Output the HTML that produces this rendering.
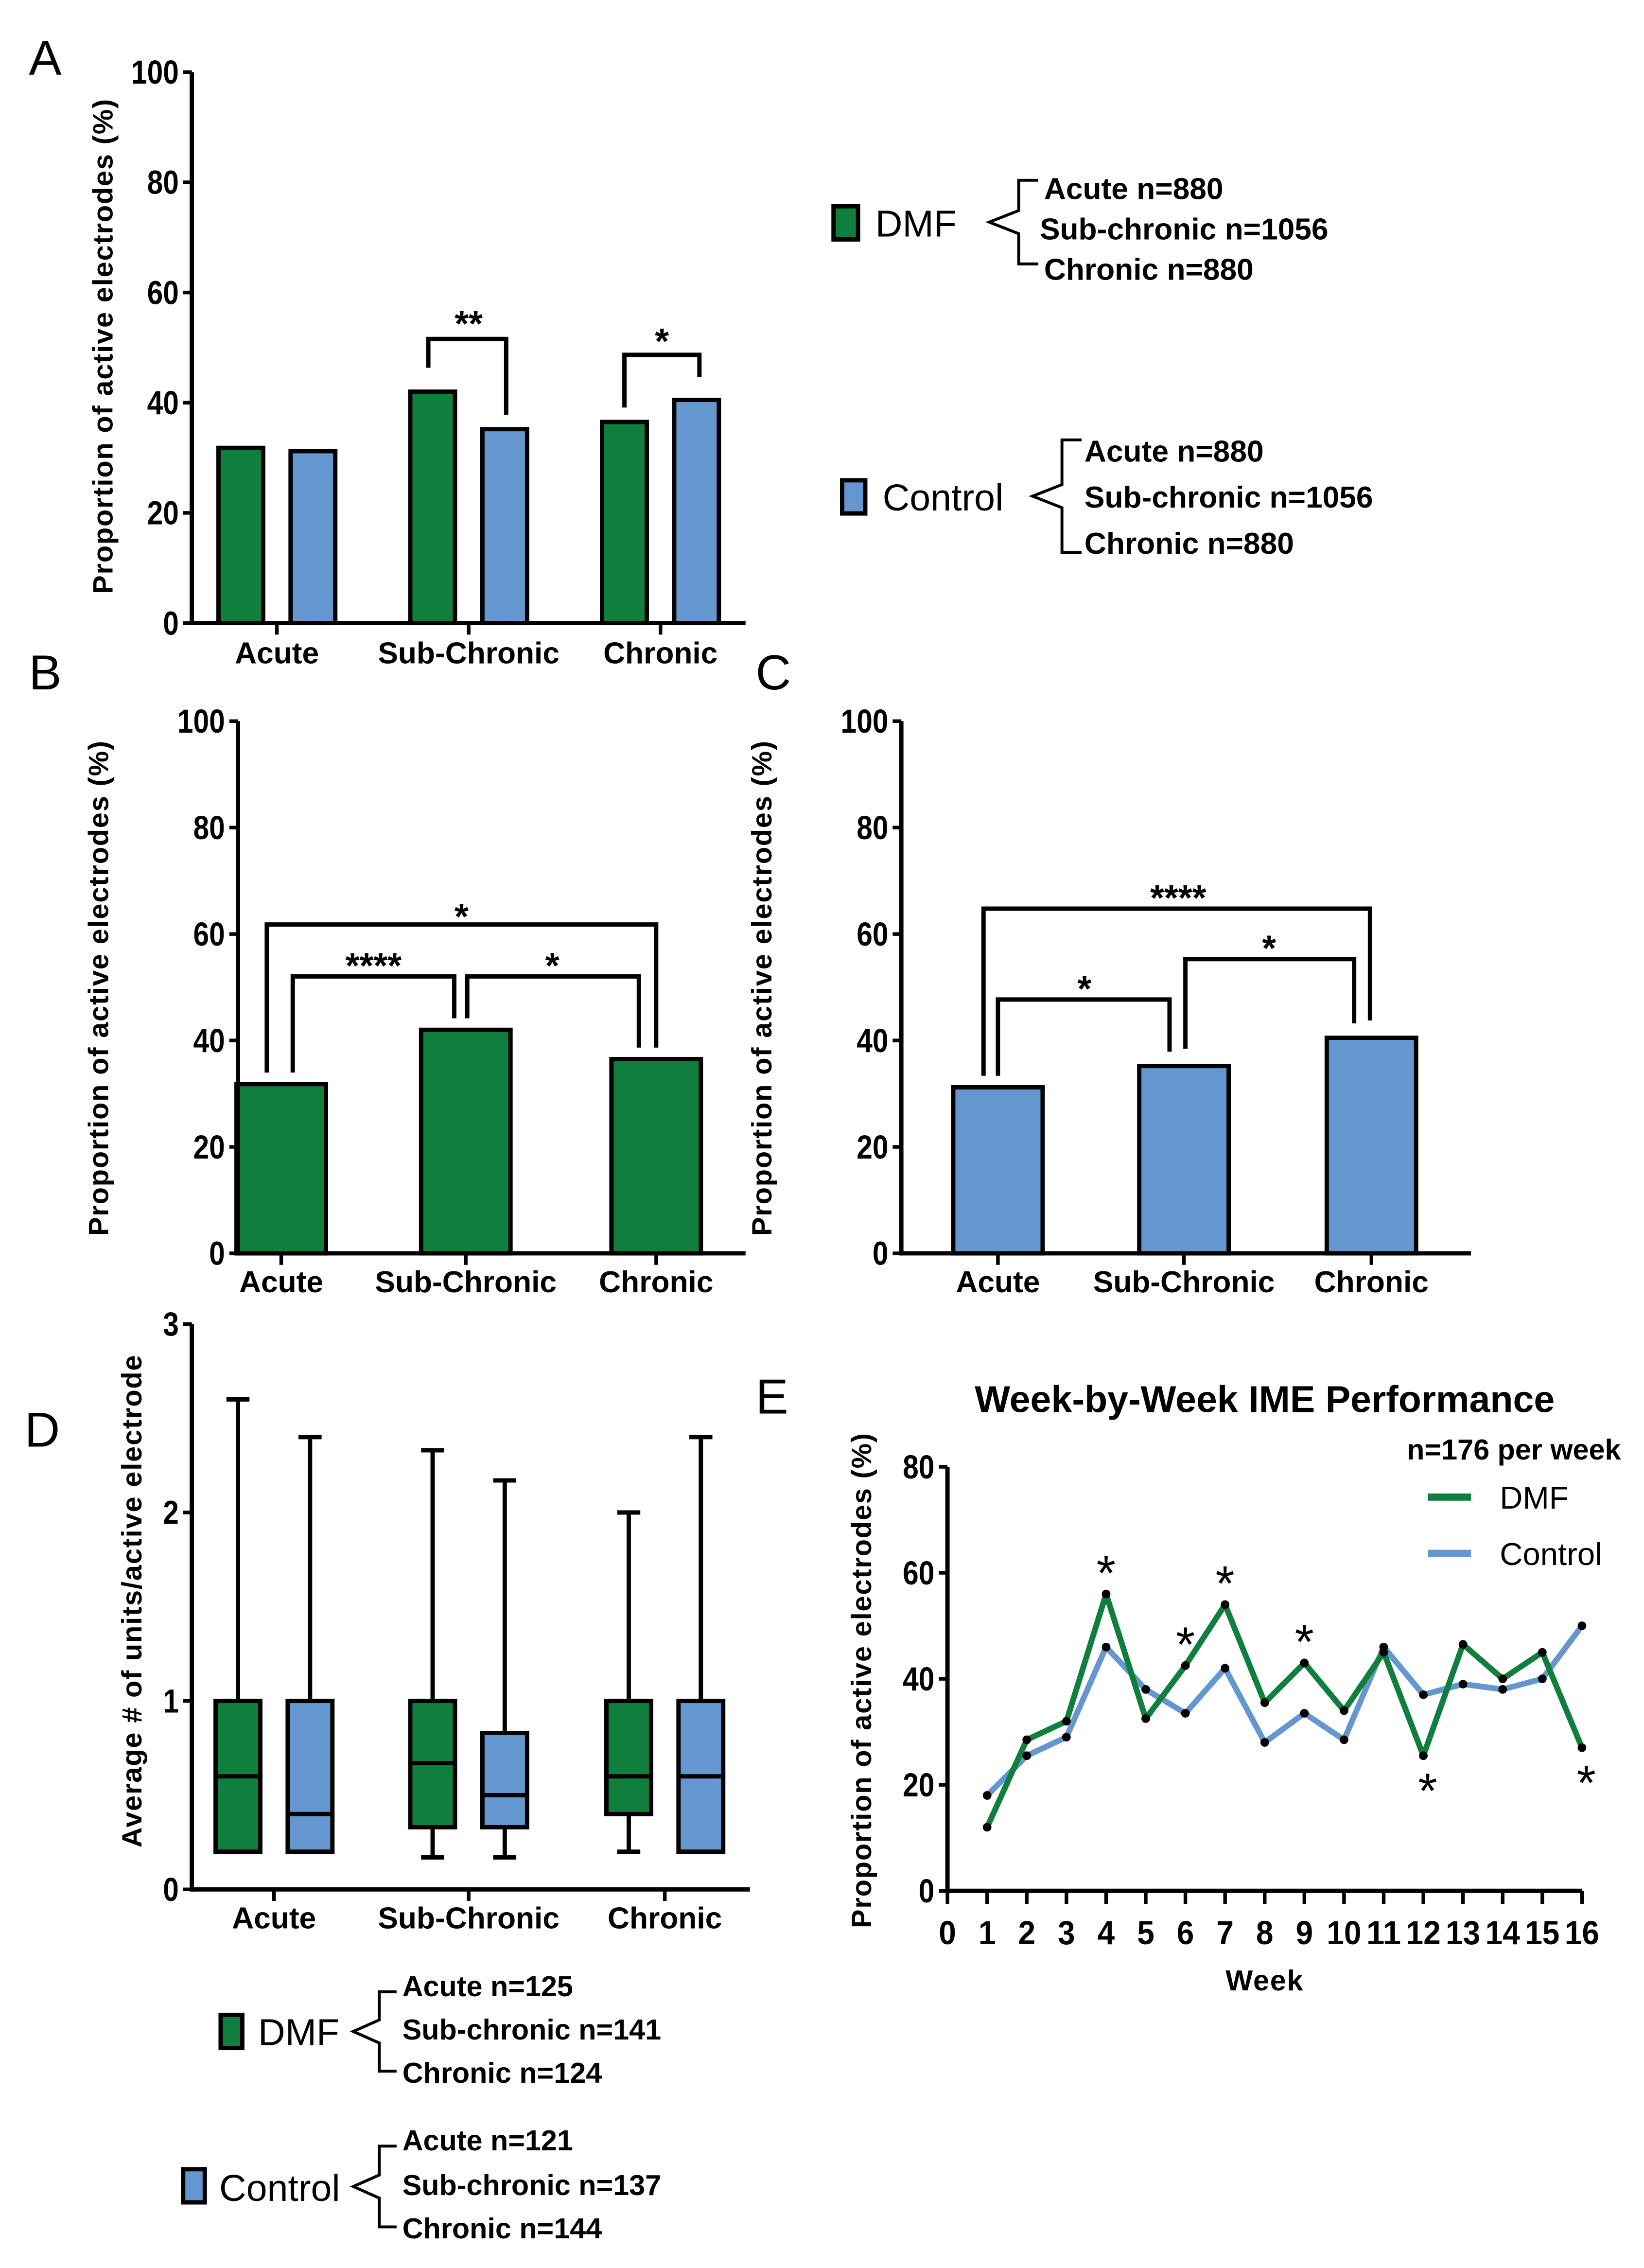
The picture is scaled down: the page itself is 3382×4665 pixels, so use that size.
<!DOCTYPE html>
<html><head><meta charset="utf-8">
<style>
html,body{margin:0;padding:0;background:#fff;}
svg{display:block;}
text{font-family:"Liberation Sans",sans-serif;}
</style></head>
<body>
<svg id="fig" width="3382" height="4665" viewBox="0 0 1140 1572.5" xmlns="http://www.w3.org/2000/svg"></svg>
<script>
// ---- data ----
const groups = ["Acute","Sub-Chronic","Chronic"];
const dmfPct = [31.8, 42, 36.5];
const ctrlPct = [31.2, 35.2, 40.5];
const yTicksPct = [0,20,40,60,80,100];
const boxDmfMax = [2.6, 2.33, 2.0];
const boxDmfQ3 = [1.0, 1.0, 1.0];
const boxDmfMed = [0.6, 0.67, 0.6];
const boxDmfQ1 = [0.2, 0.33, 0.4];
const boxDmfMin = [0.2, 0.17, 0.2];
const boxCtrlMax = [2.4, 2.17, 2.4];
const boxCtrlQ3 = [1.0, 0.83, 1.0];
const boxCtrlMed = [0.4, 0.5, 0.6];
const boxCtrlQ1 = [0.2, 0.33, 0.2];
const boxCtrlMin = [0.2, 0.17, 0.2];
const yTicksD = [0,1,2,3];
const weeks = [1,2,3,4,5,6,7,8,9,10,11,12,13,14,15,16];
const weekDmf = [12, 28.5, 32, 56, 32.5, 42.5, 54, 35.5, 43, 34, 45, 25.5, 46.5, 40, 45, 27];
const weekCtrl = [18, 25.5, 29, 46, 38, 33.5, 42, 28, 33.5, 28.5, 46, 37, 39, 38, 40, 50];
const starsAbove = [4,6,7,9];
const starsBelow = [12,16];
const xTicksE = [0,1,2,3,4,5,6,7,8,9,10,11,12,13,14,15,16];
const yTicksE = [0,20,40,60,80];

const G = "#107f3e", B = "#6497d0";
const svg = document.getElementById('fig');
const NS = "http://www.w3.org/2000/svg";
function el(tag, attrs, parent, txt){
  const e = document.createElementNS(NS, tag);
  for (const k in attrs) e.setAttribute(k, attrs[k]);
  if (txt !== undefined) e.textContent = txt;
  (parent || svg).appendChild(e);
  return e;
}
function grp(name){
  const g = el('g', {});
  
  
  return g;
}
function line(p, x1,y1,x2,y2,w){ return el('line',{x1,y1,x2,y2,stroke:'#000','stroke-width':w||3},p); }
function txt(p, x,y,s,size,anchor,bold,extra){
  const a = Object.assign({x,y,'font-size':size,'text-anchor':anchor||'middle',fill:'#000'}, extra||{});
  if (bold) a['font-weight']='bold';
  return el('text',a,p,s);
}
function yAxis(p, x, y0, y1, ticks, scale){
  line(p, x, y0+1.5, x, y1, 3);
  ticks.forEach(t=>{
    const y = scale(t);
    line(p, x-6, y, x, y, 2.5);
    const s = String(t);
    txt(p, x-9, y+8, s, 23, 'end', true, {textLength: s.length*11, lengthAdjust:'spacingAndGlyphs'});
  });
}
function panelLetter(s, x, y){
  const g = grp('panel-label-'+s.toLowerCase());
  txt(g, x, y, s, 34, 'start', false);
}
function bracket(p, xa, ya, xb, yb, ytop, label, lx, ly){
  el('polyline',{points:`${xa},${ya} ${xa},${ytop} ${xb},${ytop} ${xb},${yb}`,fill:'none',stroke:'#000','stroke-width':3},p);
  txt(p, lx, ly+3, label, 25, 'middle', true);
}
function brace(p, x, yTop, yBot, w){
  const ym = (yTop+yBot)/2;
  el('path',{d:`M${x+w},${yTop} L${x+w*0.6},${yTop} L${x+w*0.6},${ym-8} L${x},${ym} L${x+w*0.6},${ym+8} L${x+w*0.6},${yBot} L${x+w},${yBot}`,fill:'none',stroke:'#000','stroke-width':2},p);
}
const YT = {'letter-spacing':'0.6'};

// ---------- Panel A ----------
panelLetter('A', 20, 52);
{
  const g = grp('panel-a-chart');
  const y0 = 432, y100 = 50;
  const ys = v => y0 - (v/100)*(y0-y100);
  const centers = [192, 325, 458];
  const off = 25, bw = 31;
  groups.forEach((c,i)=>{
    const cx = centers[i];
    const r1 = el('rect',{x:cx-off-bw/2,y:ys(dmfPct[i]),width:bw,height:y0-ys(dmfPct[i]),fill:G,stroke:'#000','stroke-width':3},g);
    
    
    const r2 = el('rect',{x:cx+off-bw/2,y:ys(ctrlPct[i]),width:bw,height:y0-ys(ctrlPct[i]),fill:B,stroke:'#000','stroke-width':3},g);
    
    
    line(g, cx, y0, cx, y0+8, 2.5);
    txt(g, cx, 460, c, 21, 'middle', true);
  });
  line(g, 133, y0, 517, y0, 3);
  yAxis(g, 133, y0, y100, yTicksPct, ys);
  const yl = txt(g, 0, 0, 'Proportion of active electrodes  (%)', 19.5, 'middle', true, Object.assign({transform:'translate(78,240) rotate(-90)'},YT));
   
  bracket(g, 297, 255, 351, ys(ctrlPct[1])-10, 235, '**', 325, 230);
  bracket(g, 433, ys(dmfPct[2])-10, 485, ys(ctrlPct[2])-16, 246, '*', 459, 242);
  const lg = grp('legend-a-dmf');
  el('rect',{x:578,y:143,width:17,height:23,fill:G,stroke:'#000','stroke-width':3},lg);
  txt(lg, 607, 164, 'DMF', 26, 'start', false);
  brace(lg, 686, 125, 183, 34);
  txt(lg, 724, 138, 'Acute n=880', 21, 'start', true);
  txt(lg, 721, 166, 'Sub-chronic n=1056', 21, 'start', true);
  txt(lg, 724, 194, 'Chronic n=880', 21, 'start', true);
  const lc = grp('legend-a-control');
  el('rect',{x:584,y:333,width:16,height:23,fill:B,stroke:'#000','stroke-width':3},lc);
  txt(lc, 612, 354, 'Control', 26, 'start', false);
  brace(lc, 716, 305, 383, 34);
  txt(lc, 752, 320, 'Acute n=880', 21, 'start', true);
  txt(lc, 752, 352, 'Sub-chronic n=1056', 21, 'start', true);
  txt(lc, 752, 384, 'Chronic n=880', 21, 'start', true);
}

// ---------- Panels B & C ----------
function singleBar(name, letter, lx, axX, xEnd, centers, vals, color, brackets){
  panelLetter(letter, lx, 478);
  const g = grp(name);
  const y0 = 869, y100 = 500;
  const ys = v => y0 - (v/100)*(y0-y100);
  const bw = 62;
  groups.forEach((c,i)=>{
    const r = el('rect',{x:centers[i]-bw/2,y:ys(vals[i]),width:bw,height:y0-ys(vals[i]),fill:color,stroke:'#000','stroke-width':3},g);
    
    
    line(g, centers[i], y0, centers[i], y0+8, 2.5);
    txt(g, centers[i], 896, c, 21, 'middle', true);
  });
  line(g, axX, y0, xEnd, y0, 3);
  yAxis(g, axX, y0, y100, yTicksPct, ys);
  txt(g, 0, 0, 'Proportion of active electrodes (%)', 19.5, 'middle', true, Object.assign({transform:`translate(${axX-90},685) rotate(-90)`},YT));
  brackets(g, ys);
}
singleBar('panel-b-chart','B',20,165,517,[195,323,455],dmfPct,G,(g,ys)=>{
  bracket(g, 185, ys(dmfPct[0])-8, 455, ys(dmfPct[2])-8, 641, '*', 320, 641);
  bracket(g, 203, ys(dmfPct[0])-8, 315, ys(dmfPct[1])-8, 677, '****', 259, 675);
  bracket(g, 324, ys(dmfPct[1])-8, 443, ys(dmfPct[2])-8, 677, '*', 383, 675);
});
singleBar('panel-c-chart','C',524,625,1020,[692,821,951],ctrlPct,B,(g,ys)=>{
  bracket(g, 682, ys(ctrlPct[0])-8, 950, ys(ctrlPct[2])-12, 630, '****', 817, 628);
  bracket(g, 692, ys(ctrlPct[0])-8, 811, ys(ctrlPct[1])-10, 693, '*', 752, 691);
  bracket(g, 822, ys(ctrlPct[1])-12, 939, ys(ctrlPct[2])-10, 665, '*', 880, 663);
});

// ---------- Panel D ----------
panelLetter('D', 17, 1003);
{
  const g = grp('panel-d-boxplot');
  const y0 = 1310, y3 = 918;
  const ys = v => y0 - (v/3)*(y0-y3);
  const centers = [190, 325, 461];
  const off = 25, bw = 31;
  function box(cx, mx, q3, md, q1, mn, color, nm){
    const bg = el('g',{},g);
    
    
    line(bg, cx, ys(mx), cx, ys(q3), 3);
    line(bg, cx-8, ys(mx), cx+8, ys(mx), 3);
    if (mn < q1) { line(bg, cx, ys(q1), cx, ys(mn), 3); line(bg, cx-8, ys(mn), cx+8, ys(mn), 3); }
    el('rect',{x:cx-bw/2,y:ys(q3),width:bw,height:ys(q1)-ys(q3),fill:color,stroke:'#000','stroke-width':3},bg);
    line(bg, cx-bw/2, ys(md), cx+bw/2, ys(md), 3);
  }
  groups.forEach((c,i)=>{
    box(centers[i]-off, boxDmfMax[i], boxDmfQ3[i], boxDmfMed[i], boxDmfQ1[i], boxDmfMin[i], G, 'box-dmf-'+c.toLowerCase());
    box(centers[i]+off, boxCtrlMax[i], boxCtrlQ3[i], boxCtrlMed[i], boxCtrlQ1[i], boxCtrlMin[i], B, 'box-control-'+c.toLowerCase());
    line(g, centers[i], y0, centers[i], y0+8, 2.5);
    txt(g, centers[i], 1337, c, 21, 'middle', true);
  });
  line(g, 133, y0, 520, y0, 3);
  yAxis(g, 133, y0, y3, yTicksD, ys);
  txt(g, 0, 0, 'Average  # of units/active electrode', 19.5, 'middle', true, Object.assign({transform:'translate(98,1110) rotate(-90)'},YT));
  const lg = grp('legend-d-dmf');
  el('rect',{x:153,y:1397,width:15,height:23,fill:G,stroke:'#000','stroke-width':3},lg);
  txt(lg, 179, 1418, 'DMF', 26, 'start', false);
  brace(lg, 245, 1381, 1436, 30);
  txt(lg, 279, 1384, 'Acute n=125', 20, 'start', true);
  txt(lg, 279, 1414, 'Sub-chronic n=141', 20, 'start', true);
  txt(lg, 279, 1444, 'Chronic n=124', 20, 'start', true);
  const lc = grp('legend-d-control');
  el('rect',{x:127,y:1504,width:15,height:23,fill:B,stroke:'#000','stroke-width':3},lc);
  txt(lc, 152, 1526, 'Control', 26, 'start', false);
  brace(lc, 245, 1488, 1544, 30);
  txt(lc, 279, 1491, 'Acute n=121', 20, 'start', true);
  txt(lc, 279, 1522, 'Sub-chronic n=137', 20, 'start', true);
  txt(lc, 279, 1552, 'Chronic n=144', 20, 'start', true);
}

// ---------- Panel E ----------
panelLetter('E', 524, 980);
{
  const g = grp('panel-e-linechart');
  const y0 = 1311, y80 = 1017, x0 = 657, x16 = 1097;
  const ys = v => y0 - (v/80)*(y0-y80);
  const xs = w => x0 + (w/16)*(x16-x0);
  txt(g, 877, 979, 'Week-by-Week IME Performance', 26, 'middle', true);
  line(g, x0, y0, x16, y0, 3);
  yAxis(g, x0, y0, y80, yTicksE, ys);
  xTicksE.forEach(w=>{
    line(g, xs(w), y0, xs(w), y0+9, 2.5);
    txt(g, xs(w), 1348, String(w), 23, 'middle', true, {textLength: w>=10 ? 24 : 12, lengthAdjust:'spacingAndGlyphs'});
  });
  txt(g, 877, 1380, 'Week', 20, 'middle', true, {'letter-spacing':'0.6'});
  txt(g, 0, 0, 'Proportion of active electrodes (%)', 19.5, 'middle', true, Object.assign({transform:'translate(604,1165) rotate(-90)'},YT));
  const pc = el('polyline',{points:weeks.map((w,i)=>xs(w)+','+ys(weekCtrl[i])).join(' '),fill:'none',stroke:B,'stroke-width':4,'stroke-linejoin':'round'},g);
  
  
  const pd = el('polyline',{points:weeks.map((w,i)=>xs(w)+','+ys(weekDmf[i])).join(' '),fill:'none',stroke:G,'stroke-width':4,'stroke-linejoin':'round'},g);
  
  
  weeks.forEach((w,i)=>{
    el('circle',{cx:xs(w),cy:ys(weekCtrl[i]),r:3,fill:'#000'},g);
    el('circle',{cx:xs(w),cy:ys(weekDmf[i]),r:3,fill:'#000'},g);
  });
  starsAbove.forEach(w=>{
    const i = weeks.indexOf(w);
    txt(g, xs(w), ys(Math.max(weekDmf[i],weekCtrl[i]))-3, '*', 34, 'middle', false);
  });
  starsBelow.forEach(w=>{
    const i = weeks.indexOf(w);
    txt(g, xs(w)+3, ys(Math.min(weekDmf[i],weekCtrl[i]))+36, '*', 34, 'middle', false);
  });
  const lg = grp('legend-e');
  txt(lg, 1124, 1012, 'n=176 per week', 20, 'end', true);
  line(lg, 990, 1038, 1020, 1038, 5).setAttribute('stroke', G);
  txt(lg, 1040, 1046, 'DMF', 22, 'start', false);
  line(lg, 990, 1077, 1020, 1077, 5).setAttribute('stroke', B);
  txt(lg, 1040, 1085, 'Control', 22, 'start', false);
}
</script>
</body></html>
